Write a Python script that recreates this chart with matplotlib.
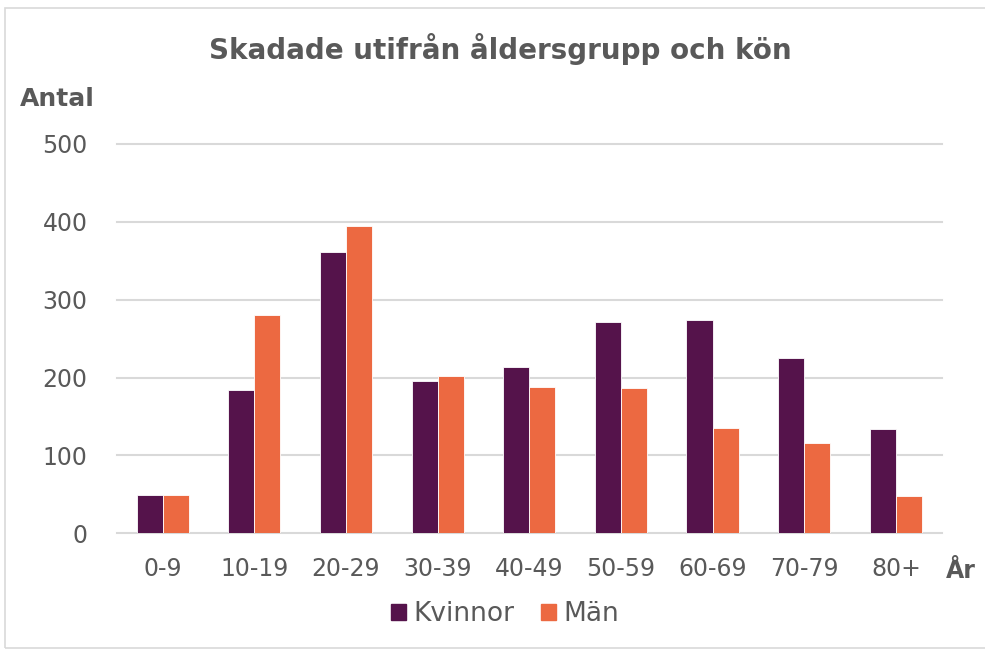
import matplotlib.pyplot as plt
import matplotlib.patches as mpatches
import numpy as np

# data
age_groups = ["0-9", "10-19", "20-29", "30-39", "40-49", "50-59", "60-69", "70-79", "80+"]
kvinnor = [49, 184, 361, 195, 213, 271, 274, 225, 134]
man = [49, 281, 395, 202, 188, 187, 135, 116, 48]

text_col = "#595959"
grid_col = "#D9D9D9"
col_k = "#55134B"
col_m = "#EC6941"

plt.rcParams["font.family"] = ["DejaVu Sans"]

fig = plt.figure(figsize=(9.85, 6.5), dpi=100)
ax = fig.add_axes([0.1185, 0.1795, 0.8375, 0.599])

x = np.arange(len(age_groups))
w = 0.284
ax.bar(x - w / 2, kvinnor, w, color=col_k, edgecolor="white", linewidth=0.6, label="Kvinnor", zorder=3)
ax.bar(x + w / 2, man, w, color=col_m, edgecolor="white", linewidth=0.6, label="Män", zorder=3)

ax.set_xlim(-0.5, len(age_groups) - 0.5)
ax.set_ylim(0, 500)
ax.set_yticks([0, 100, 200, 300, 400, 500])
ax.set_xticks(x)
ax.set_xticklabels(age_groups)
ax.yaxis.grid(True, color=grid_col, linewidth=1.5, zorder=0)
for gl in ax.get_ygridlines():
    gl.set_clip_on(False)
ax.tick_params(axis="both", length=0, labelsize=17, colors=text_col)
ax.tick_params(axis="x", pad=17)
ax.tick_params(axis="y", pad=21)
for s in ax.spines.values():
    s.set_visible(False)

fig.text(0.508, 0.925, "Skadade utifrån åldersgrupp och kön", ha="center", va="center",
         fontsize=20, fontweight="bold", color=text_col)
fig.text(0.02, 0.847, "Antal", ha="left", va="center", fontsize=18, fontweight="bold", color=text_col)
fig.text(0.975, 0.122, "År", ha="center", va="center", fontsize=17, fontweight="bold", color=text_col)

handles = [mpatches.Patch(color=col_k, label="Kvinnor"), mpatches.Patch(color=col_m, label="Män")]
leg = fig.legend(handles=handles, loc="center", bbox_to_anchor=(0.513, 0.055), ncol=2, frameon=False,
                 fontsize=19, handlelength=0.55, handleheight=0.55, handletextpad=0.3, columnspacing=1.0)
for t in leg.get_texts():
    t.set_color(text_col)

# light outer frame as in the original chart area
fig.patches.append(mpatches.Rectangle((5 / 985, 2 / 650), 985, 640 / 650, transform=fig.transFigure,
                                      fill=False, edgecolor=grid_col, linewidth=1.2))

fig.savefig("out.png", dpi=100)
